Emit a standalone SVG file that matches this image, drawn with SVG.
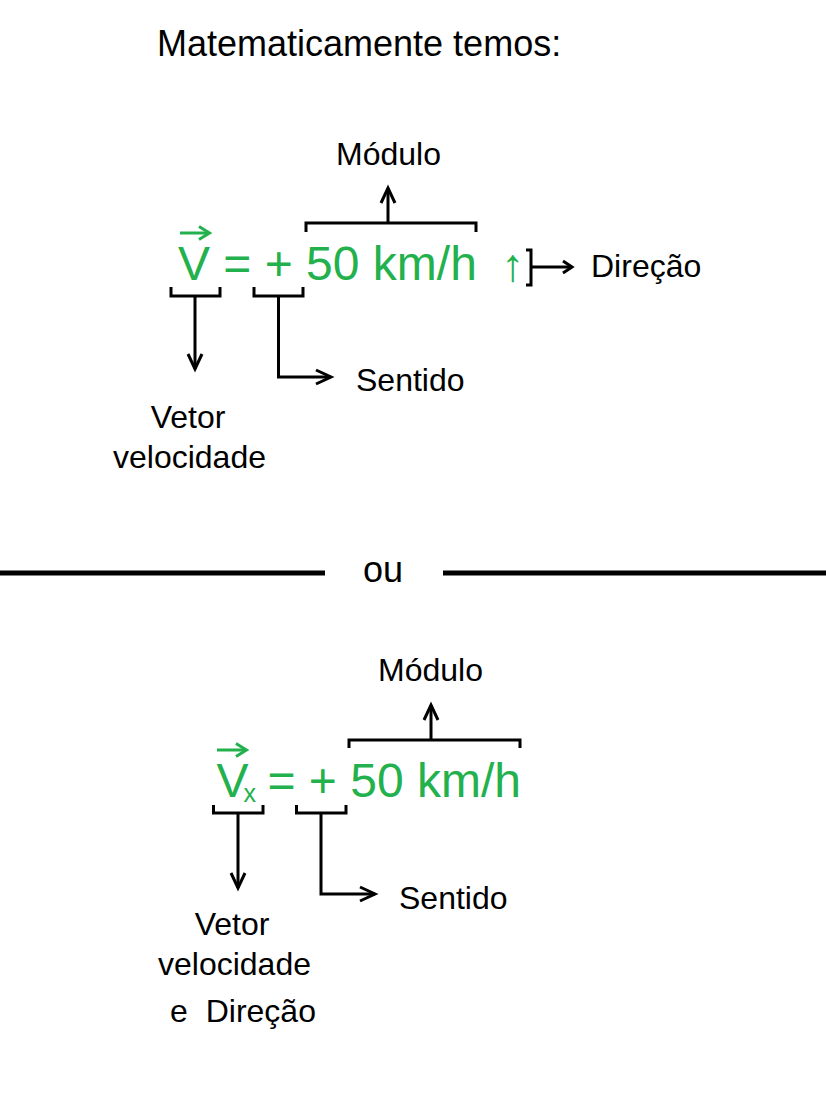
<svg xmlns="http://www.w3.org/2000/svg" width="826" height="1116" viewBox="0 0 826 1116">
<style>
text{font-family:"Liberation Sans",Arial,sans-serif;fill:#000}
.t{font-size:36px}
.lbl{font-size:32px}
.g{fill:#22b14c;font-size:48px}
.ln{stroke:#000;stroke-width:3;fill:none}
.garr{stroke:#22b14c;stroke-width:3;fill:none}
.sep{stroke:#000;stroke-width:5;fill:none}
</style>
<defs>
<marker id="ah" markerUnits="userSpaceOnUse" markerWidth="20" markerHeight="20" refX="16" refY="8" orient="auto" overflow="visible">
<path d="M1,1 L16,8 L1,15" stroke="#000" stroke-width="3" fill="none"/>
</marker>
<marker id="ahs" markerUnits="userSpaceOnUse" markerWidth="14" markerHeight="14" refX="10" refY="6" orient="auto" overflow="visible">
<path d="M1,0 L10,6 L1,12" stroke="#000" stroke-width="3" fill="none"/>
</marker>
</defs>
<rect width="826" height="1116" fill="#fff"/>

<g id="title"><text class="t" x="157" y="56">Matematicamente temos:</text></g>

<g id="eq1">
<text class="g" x="178" y="280">V = + 50 km/h</text>
<line class="garr" x1="180" y1="233" x2="209" y2="233"/>
<polyline class="garr" points="199,226.5 209.5,233 199,239.5"/>
<text x="501" y="281" style="fill:#22b14c;font-size:46px">↑</text>
</g>

<g id="modulo1"><text class="lbl" x="336" y="165">Módulo</text></g>
<g id="direcao1"><text class="lbl" x="591" y="277">Direção</text></g>
<g id="sentido1"><text class="lbl" x="356" y="391">Sentido</text></g>
<g id="vetor1"><text class="lbl" text-anchor="middle" x="188" y="428">Vetor</text><text class="lbl" text-anchor="middle" x="189.5" y="468">velocidade</text></g>

<g id="ou"><text x="383" y="582" text-anchor="middle" style="font-size:36px">ou</text></g>

<g id="eq2">
<text class="g" x="216.5" y="797">V<tspan dx="-5" dy="5" style="font-size:25px">x</tspan></text>
<text class="g" x="267.5" y="797">= + 50 km/h</text>
<line class="garr" x1="217" y1="750" x2="246" y2="750"/>
<polyline class="garr" points="236,743.5 246.5,750 236,756.5"/>
</g>

<g id="modulo2"><text class="lbl" x="378" y="681">Módulo</text></g>
<g id="sentido2"><text class="lbl" x="399" y="909">Sentido</text></g>
<g id="vetor2"><text class="lbl" text-anchor="middle" x="232" y="935">Vetor</text><text class="lbl" text-anchor="middle" x="234.5" y="975">velocidade</text><text class="lbl" text-anchor="middle" x="243" y="1022" style="white-space:pre">e  Direção</text></g>

<g id="connectors">
<polyline class="ln" points="306,232 306,223 476,223 476,232"/>
<line class="ln" x1="388" y1="223" x2="388" y2="188" marker-end="url(#ah)"/>
<polyline class="ln" points="526,250 531,250 531,285 526,285"/>
<line class="ln" x1="531" y1="267" x2="572" y2="267" marker-end="url(#ahs)"/>
<polyline class="ln" points="171,287 171,296 220,296 220,287"/>
<line class="ln" x1="195" y1="296" x2="195" y2="369" marker-end="url(#ah)"/>
<polyline class="ln" points="254,287 254,296 303,296 303,287"/>
<polyline class="ln" points="278.5,296 278.5,377 331,377" marker-end="url(#ah)"/>
<line class="sep" x1="0" y1="573" x2="325" y2="573"/>
<line class="sep" x1="443" y1="573" x2="826" y2="573"/>
<polyline class="ln" points="349,748 349,740 520,740 520,748"/>
<line class="ln" x1="431" y1="740" x2="431" y2="705" marker-end="url(#ah)"/>
<polyline class="ln" points="213.5,805 213.5,813 263,813 263,805"/>
<line class="ln" x1="238" y1="813" x2="238" y2="888" marker-end="url(#ah)"/>
<polyline class="ln" points="296.5,805 296.5,813 346,813 346,805"/>
<polyline class="ln" points="321,813 321,894 375,894" marker-end="url(#ah)"/>
</g>
</svg>
